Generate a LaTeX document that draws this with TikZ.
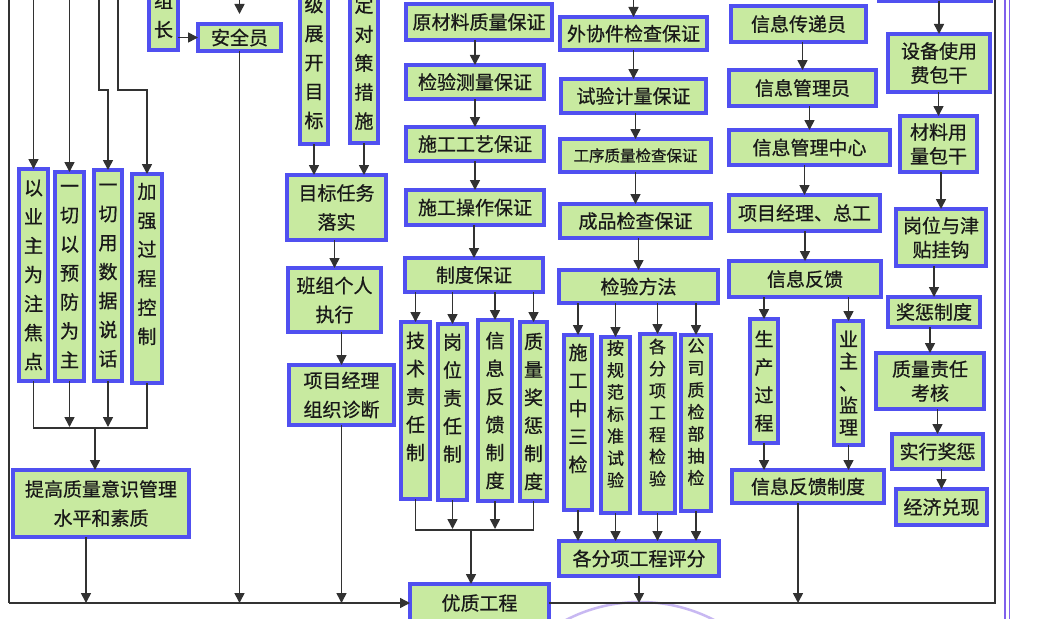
\documentclass[tikz,border=0pt]{standalone}
\usepackage{fontspec}
\newfontfamily\cjk[FakeBold=0.7]{Noto Sans CJK SC}
\usetikzlibrary{arrows.meta}
\definecolor{boxblue}{RGB}{80,80,240}
\definecolor{boxgreen}{RGB}{200,234,160}
\definecolor{lin}{RGB}{50,50,50}
\definecolor{txt}{RGB}{25,25,25}
\definecolor{edgec}{RGB}{128,96,236}
\definecolor{stampc}{RGB}{200,184,242}
\newcommand{\bx}[7]{\node[box,#6,minimum width={#4-(#2)-4},minimum height={#5-(#3)-4}] (#1) at ({(#2+#4)/2},{(#3+#5)/2}) {#7};}
\newcommand{\ph}{\phantom{字}}
\begin{document}
\begin{tikzpicture}[x=1pt,y=-1pt,
  box/.style={draw=boxblue,fill=boxgreen,line width=4pt,inner sep=0pt,outer sep=0pt,align=center,text=txt,font=\cjk\fontsize{19}{29}\selectfont},
  pa/.style={font=\cjk\fontsize{19}{28}\selectfont},
  pb/.style={font=\cjk\fontsize{17}{22}\selectfont},
  pc/.style={font=\cjk\fontsize{19}{22}\selectfont},
  pd/.style={font=\cjk\fontsize{19}{24}\selectfont},
  pe/.style={font=\cjk\fontsize{15.5}{20}\selectfont},
  ln/.style={draw=lin,line width=1.6pt},
  arr/.style={ln,-{Triangle[length=10pt,width=10pt]}},
  frm/.style={draw=lin,line width=1.4pt}]
\useasboundingbox (0,0) rectangle (1048,618);
\fill[white] (0,0) rectangle (1048,618);
\clip (0,0) rectangle (1048,618);
% stamp
\draw[stampc,line width=2.5pt] (640,763) circle (161);
% ---------- boxes
\bx{zz}{147}{-22}{180}{52}{}{组\\长}
\bx{aq}{196}{22}{283}{53}{}{安全员}
\bx{v1}{17}{167}{50}{383}{}{以\\业\\主\\为\\注\\焦\\点}
\bx{v2}{53}{170}{86}{383}{}{一\\切\\以\\预\\防\\为\\主}
\bx{v3}{92}{168}{124}{383}{}{一\\切\\用\\数\\据\\说\\话}
\bx{v4}{130}{172}{164}{385}{}{加\\强\\过\\程\\控\\制\\\ph}
\bx{tg}{11}{468}{191}{539}{}{提高质量意识管理\\水平和素质}
\bx{jz}{298}{-21}{330}{146}{}{级\\展\\开\\目\\标}
\bx{dc}{348}{-19}{380}{145}{}{定\\对\\策\\措\\施}
\bx{mb}{285}{173}{388}{242}{}{目标任务\\落实}
\bx{bz}{286}{266}{383}{334}{}{班组个人\\执行}
\bx{xm}{287}{363}{396}{427}{}{项目经理\\组织诊断}
\bx{c1}{404}{2}{554}{42}{}{原材料质量保证}
\bx{c2}{404}{63}{546}{101}{}{检验测量保证}
\bx{c3}{404}{125}{546}{163}{}{施工工艺保证}
\bx{c4}{404}{188}{546}{227}{}{施工操作保证}
\bx{zd}{403}{256}{545}{294}{}{制度保证}
\bx{s1}{399}{320}{432}{501}{pa}{技\\术\\责\\任\\制\\\ph}
\bx{s2}{436}{322}{469}{502}{pa}{岗\\位\\责\\任\\制\\\ph}
\bx{s3}{476}{318}{514}{503}{pa}{信\\息\\反\\馈\\制\\度}
\bx{s4}{518}{320}{549}{503}{pa}{质\\量\\奖\\惩\\制\\度}
\bx{yz}{408}{582}{551}{624}{}{优质工程}
\bx{d1}{558}{15}{709}{52}{}{外协件检查保证}
\bx{d2}{559}{77}{708}{115}{}{试验计量保证}
\bx{d3}{558}{137}{713}{174}{pe}{工序质量检查保证}
\bx{d4}{558}{202}{713}{240}{}{成品检查保证}
\bx{jf}{557}{268}{720}{305}{}{检验方法}
\bx{t1}{562}{333}{594}{512}{pa}{施\\工\\中\\三\\检\\\ph}
\bx{t2}{599}{335}{632}{515}{pb}{按\\规\\范\\标\\准\\试\\验\\\ph}
\bx{t3}{638}{332}{677}{515}{pb}{各\\分\\项\\工\\程\\检\\验\\\ph}
\bx{t4}{679}{333}{713}{513}{pb}{公\\司\\质\\检\\部\\抽\\检\\\ph}
\bx{pf}{557}{539}{721}{578}{}{各分项工程评分}
\bx{e1}{729}{4}{868}{44}{}{信息传递员}
\bx{e2}{727}{68}{878}{108}{}{信息管理员}
\bx{e3}{727}{128}{892}{167}{}{信息管理中心}
\bx{e4}{727}{193}{882}{233}{}{项目经理、总工}
\bx{e5}{727}{259}{883}{299}{}{信息反馈}
\bx{p1}{748}{317}{780}{445}{pa}{生\\产\\过\\程}
\bx{p2}{832}{319}{865}{447}{pc}{业\\主\\、\\监\\理}
\bx{fz}{730}{468}{886}{505}{}{信息反馈制度}
\bx{f0}{877}{-40}{993}{3}{}{}
\bx{f1}{886}{32}{992}{94}{pd}{设备使用\\费包干}
\bx{f2}{898}{114}{979}{174}{pd}{材料用\\量包干}
\bx{f3}{894}{207}{988}{268}{pd}{岗位与津\\贴挂钩}
\bx{f4}{886}{295}{982}{329}{}{奖惩制度}
\bx{f5}{874}{351}{986}{411}{pd}{质量责任\\考核}
\bx{f6}{890}{432}{985}{471}{}{实行奖惩}
\bx{f7}{894}{487}{989}{527}{}{经济兑现}
% ---------- helper coordinates
\coordinate (a1) at (33.5,-5);
\coordinate (a2) at (69.5,-5);
\coordinate (a3) at (99,-5);
\coordinate (a4) at (118,-5);
\coordinate (a5) at (239.5,-5);
\coordinate (a6) at (633.5,-5);
\coordinate (k1) at (0,90);
\coordinate (tl) at (9,-5);
\coordinate (bl) at (9,603);
\coordinate (tr) at (995,-5);
\coordinate (br) at (995,603);
\coordinate (brk) at (95,428);
\coordinate (brk2) at (471,530);
% ---------- frame
\draw[frm] (tl) -- (bl);
\draw[frm,-{Triangle[length=10pt,width=10pt]}] (bl) -- (yz.west);
\draw[frm] (tr) -- (br) -- (yz.east);
\draw[edgec,line width=1.8pt] (1005,-5) -- (1005,625);
\draw[edgec,line width=1.8pt] (1009.5,-5) -- (1009.5,625);
% ---------- left group
\draw[arr] (a1) -- (v1.north);
\draw[arr] (a2) -- (v2.north);
\draw[arr] (a3) -- (a3 |- k1) -- (v3.north |- k1) -- (v3.north);
\draw[arr] (a4) -- (a4 |- k1) -- (v4.north |- k1) -- (v4.north);
\draw[ln] (v1.south) -- (v1.south |- brk) -- (v4.south |- brk) -- (v4.south);
\draw[arr,shorten >=1pt] (v2.south) -- (v2.south |- brk);
\draw[arr,shorten >=1pt] (v3.south) -- (v3.south |- brk);
\draw[arr] (brk) -- (brk |- tg.north);
\draw[arr] ([xshift=-15pt]tg.south) -- ([xshift=-15pt]tg.south |- bl);
\draw[arr] (zz.east |- aq.west) -- (aq.west);
\draw[arr,shorten >=10pt] (a5) -- (aq.north);
\draw[arr] (aq.south) -- (aq.south |- bl);
% ---------- column 2
\draw[arr] (jz.south) -- (jz.south |- mb.north);
\draw[arr] (dc.south) -- (dc.south |- mb.north);
\draw[arr] (bz.north |- mb.south) -- (bz.north);
\draw[arr] (xm.north |- bz.south) -- (xm.north);
\draw[arr] (xm.south) -- (xm.south |- bl);
% ---------- column 3
\draw[arr] (c2.north |- c1.south) -- (c2.north);
\draw[arr] (c3.north |- c2.south) -- (c3.north);
\draw[arr] (c4.north |- c3.south) -- (c4.north);
\draw[arr] (zd.north |- c4.south) -- (zd.north);
\foreach \s in {s1,s2,s3,s4}{\draw[arr] (\s.north |- zd.south) -- (\s.north);}
\draw[ln] (s1.south) -- (s1.south |- brk2) -- (s4.south |- brk2) -- (s4.south);
\draw[arr,shorten >=1pt] (s2.south) -- (s2.south |- brk2);
\draw[arr,shorten >=1pt] (s3.south) -- (s3.south |- brk2);
\draw[arr] (brk2) -- (brk2 |- yz.north);
% ---------- column 4
\draw[arr] (a6) -- (d1.north);
\draw[arr] (d2.north |- d1.south) -- (d2.north);
\draw[arr] (d3.north |- d2.south) -- (d3.north);
\draw[arr] (d4.north |- d3.south) -- (d4.north);
\draw[arr] (jf.north |- d4.south) -- (jf.north);
\foreach \t in {t1,t2,t3,t4}{\draw[arr] (\t.north |- jf.south) -- (\t.north);
  \draw[arr] (\t.south) -- (\t.south |- pf.north);}
\draw[arr] (pf.south) -- (pf.south |- br);
% ---------- column 5
\draw[arr] (e2.north |- e1.south) -- (e2.north);
\draw[arr] (e3.north |- e2.south) -- (e3.north);
\draw[arr] (e4.north |- e3.south) -- (e4.north);
\draw[arr] (e5.north |- e4.south) -- (e5.north);
\draw[arr] (p1.north |- e5.south) -- (p1.north);
\draw[arr] (p2.north |- e5.south) -- (p2.north);
\draw[arr] (p1.south) -- (p1.south |- fz.north);
\draw[arr] (p2.south) -- (p2.south |- fz.north);
\draw[arr] ([xshift=-10pt]fz.south) -- ([xshift=-10pt]fz.south |- br);
% ---------- column 6
\draw[arr] (f1.north |- f0.south) -- (f1.north);
\draw[arr] (f2.north |- f1.south) -- (f2.north);
\draw[arr] (f3.north |- f2.south) -- (f3.north);
\draw[arr] (f4.north |- f3.south) -- (f4.north);
\draw[arr] (f5.north |- f4.south) -- (f5.north);
\draw[arr] (f6.north |- f5.south) -- (f6.north);
\draw[arr] (f7.north |- f6.south) -- (f7.north);
\end{tikzpicture}
\end{document}
